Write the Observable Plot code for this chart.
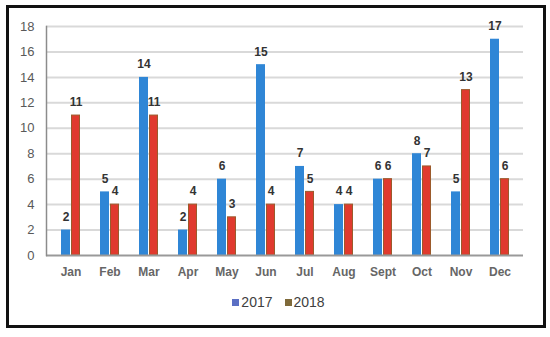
<!DOCTYPE html>
<html>
<head>
<meta charset="utf-8">
<script src="https://cdn.jsdelivr.net/npm/d3@7"></script>
<script src="https://cdn.jsdelivr.net/npm/@observablehq/plot@0.6"></script>
<style>
  html, body { margin: 0; padding: 0; background: #fff; }
  #box {
    position: absolute; left: 6px; top: 5px; width: 540px; height: 323px;
    border: 3px solid #111; box-sizing: border-box; background: #fff;
  }
  #legend {
    display: flex; justify-content: center; align-items: center; gap: 12px;
    margin-top: 9px; padding-left: 5px;
    font: 14px "Liberation Sans", Arial, sans-serif; color: #404040; height: 16px;
  }
  #legend span.sw { display: inline-block; width: 7px; height: 7px; margin-right: 2px; vertical-align: middle; }
  #legend .item { display: flex; align-items: center; }
</style>
</head>
<body>
<div id="box"><div id="chart"></div><div id="legend"></div></div>
<script>
const months = ["Jan","Feb","Mar","Apr","May","Jun","Jul","Aug","Sept","Oct","Nov","Dec"];
const values2017 = [2,5,14,2,6,15,7,4,6,8,5,17];
const values2018 = [11,4,11,4,3,4,5,4,6,7,13,6];
const yTicks = [0,2,4,6,8,10,12,14,16,18];
const seriesNames = ["2017","2018"];
const barColors = ["#2f86d6","#e03a2e"];
const legendColors = ["#5b6fc4","#7f6a3a"];

const d17 = months.map((m,i) => ({month: m, value: values2017[i]}));
const d18 = months.map((m,i) => ({month: m, value: values2018[i]}));

const plot = Plot.plot({
  width: 534,
  height: 277,
  marginLeft: 37,
  marginRight: 20,
  marginTop: 18,
  marginBottom: 30,
  style: {fontFamily: "'Liberation Sans', Arial, sans-serif", background: "transparent"},
  x: {domain: months, padding: 0, label: null},
  y: {domain: [0,18], label: null},
  marks: [
    Plot.gridY(yTicks.filter(t => t > 0), {stroke: "#d9d9d9", strokeOpacity: 1, strokeWidth: 2}),
    Plot.axisY(yTicks, {tickSize: 0, tickPadding: 12, fontSize: 13, fill: "#595959", label: null}),
    Plot.axisX({tickSize: 0, tickPadding: 12, fontSize: 12, fontWeight: "bold", fill: "#666", label: null}),
    Plot.barY(d17, {x: "month", y: "value", fill: barColors[0], insetLeft: 10, insetRight: 20}),
    Plot.barY(d18, {x: "month", y: "value", fill: barColors[1], stroke: "#9b5a2b", strokeWidth: 1, insetLeft: 20.5, insetRight: 10.5}),
    Plot.text(d17, {x: "month", y: "value", text: d => String(d.value), dx: -5, dy: -13, fontSize: 12, fontWeight: "bold", fill: "#333"}),
    Plot.text(d18, {x: "month", y: "value", text: d => String(d.value), dx: 5, dy: -13, fontSize: 12, fontWeight: "bold", fill: "#333"}),
    Plot.ruleY([0], {stroke: "#999", strokeWidth: 2}),
    Plot.frame({anchor: "left", stroke: "#8c8c8c", strokeWidth: 1.5})
  ]
});
document.getElementById("chart").appendChild(plot);

const legend = document.getElementById("legend");
seriesNames.forEach((name, i) => {
  const item = document.createElement("div");
  item.className = "item";
  const sw = document.createElement("span");
  sw.className = "sw";
  sw.style.background = legendColors[i];
  item.appendChild(sw);
  item.appendChild(document.createTextNode(name));
  legend.appendChild(item);
});
</script>
</body>
</html>
